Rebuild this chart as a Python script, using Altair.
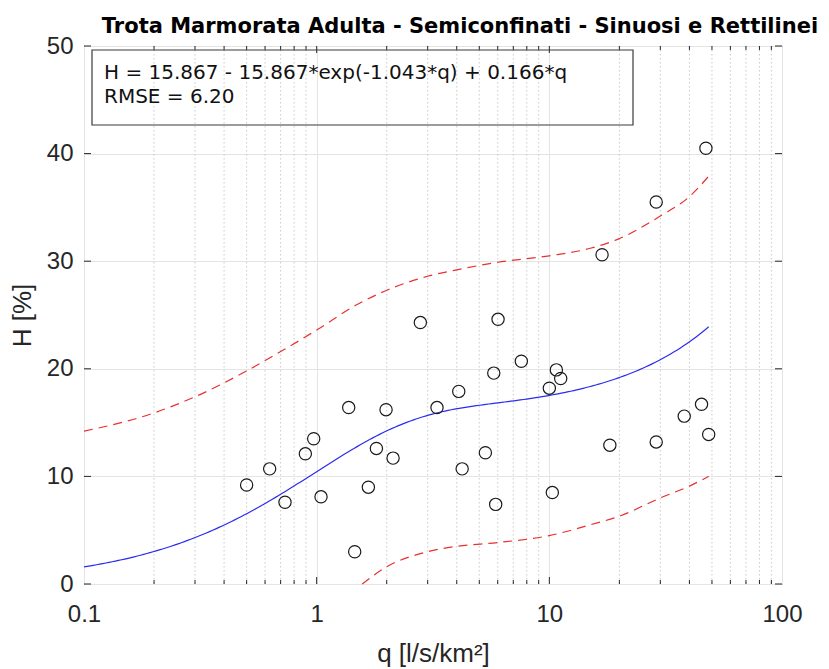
import numpy as np
import pandas as pd
import altair as alt

# Observed points: specific discharge q [l/s/km2] vs habitat H [%]
q_obs = [0.50, 0.628, 0.731, 0.894, 0.971, 1.044, 1.373, 1.457, 1.668, 1.806,
         1.987, 2.13, 2.79, 3.29, 4.08, 4.22, 5.31, 5.77, 5.88, 6.02,
         7.58, 10.0, 10.3, 10.72, 11.19, 16.85, 18.2, 28.8, 28.8, 38.0,
         45.1, 47.1, 48.4]
h_obs = [9.2, 10.7, 7.6, 12.1, 13.5, 8.1, 16.4, 3.0, 9.0, 12.6,
         16.2, 11.7, 24.3, 16.4, 17.9, 10.7, 12.2, 19.6, 7.4, 24.6,
         20.7, 18.2, 8.5, 19.9, 19.1, 30.6, 12.9, 13.2, 35.5, 15.6,
         16.7, 40.5, 13.9]

# Fitted model H = a - a*exp(-b*q) + c*q
fit_a = 15.867
fit_b = 1.043
fit_c = 0.166
rmse = 6.20
q_fit_max = 48.4

# Prediction bounds
upper_q = [0.1, 0.2, 0.3, 0.5, 0.7, 1.0, 1.5, 2.0, 3.0, 4.0, 6.0, 10.0, 15.0, 20.0, 30.0, 40.0, 48.4]
upper_h = [14.2, 15.9, 17.4, 19.8, 21.6, 23.6, 26.0, 27.3, 28.6, 29.2, 29.9, 30.5, 31.2, 32.1, 34.2, 36.0, 37.9]
lower_q = [1.57, 2.0, 3.0, 4.0, 6.0, 10.0, 15.0, 20.0, 30.0, 40.0, 48.4]
lower_h = [0.0, 1.6, 3.0, 3.5, 3.85, 4.5, 5.5, 6.3, 8.0, 9.1, 10.0]

# Axis ticks
x_major = [0.1, 1, 10, 100]
x_minor = [0.2, 0.3, 0.4, 0.5, 0.6, 0.7, 0.8, 0.9,
           2, 3, 4, 5, 6, 7, 8, 9,
           20, 30, 40, 50, 60, 70, 80, 90]
y_major = [0, 10, 20, 30, 40, 50]

title_text = "Trota Marmorata Adulta - Semiconfinati - Sinuosi e Rettilinei"
eq_line1 = f"H = {fit_a:.3f} - {fit_a:.3f}*exp(-{fit_b:.3f}*q) + {fit_c:.3f}*q"
eq_line2 = f"RMSE = {rmse:.2f}"

W, H = 698, 538
FONT = "Liberation Sans"
TEXT_FONT = "DejaVu Sans"
INK = "#262626"

obs = pd.DataFrame({"q": q_obs, "h": h_obs})
q_line = np.logspace(-1, np.log10(q_fit_max), 200)
fit = pd.DataFrame({"q": q_line, "h": fit_a - fit_a * np.exp(-fit_b * q_line) + fit_c * q_line})
upper = pd.DataFrame({"q": upper_q, "h": upper_h})
lower = pd.DataFrame({"q": lower_q, "h": lower_h})
minor = pd.DataFrame({"q": x_minor})
major_inner = pd.DataFrame({"q": [v for v in x_major if 0.1 < v < 100]})
yt = pd.DataFrame({"h": y_major})
one = pd.DataFrame({"k": [0]})

x_enc = alt.X(
    "q:Q",
    scale=alt.Scale(type="log", domain=[0.1, 100]),
    axis=alt.Axis(values=x_major, format="~g", title="q [l/s/km²]",
                  labelPadding=18, titlePadding=14, labelFlush=False),
)
y_enc = alt.Y(
    "h:Q",
    scale=alt.Scale(domain=[0, 50]),
    axis=alt.Axis(values=y_major, title="H [%]", labelPadding=11, titlePadding=11,
                  labelFlush=False),
)

minor_grid = alt.Chart(minor).mark_rule(
    color="#bdbdbd", strokeDash=[1.5, 2.5], strokeWidth=0.8
).encode(x=x_enc, y=alt.value(0), y2=alt.value(H))

minor_ticks_bottom = alt.Chart(minor).mark_rule(color=INK, strokeWidth=1).encode(
    x=x_enc, y=alt.value(H), y2=alt.value(H - 4))
minor_ticks_top = alt.Chart(minor).mark_rule(color=INK, strokeWidth=1).encode(
    x=x_enc, y=alt.value(0), y2=alt.value(4))
major_ticks_bottom = alt.Chart(major_inner).mark_rule(color=INK, strokeWidth=1).encode(
    x=x_enc, y=alt.value(H), y2=alt.value(H - 7))
major_ticks_top = alt.Chart(major_inner).mark_rule(color=INK, strokeWidth=1).encode(
    x=x_enc, y=alt.value(0), y2=alt.value(7))
y_ticks_left = alt.Chart(yt).mark_rule(color=INK, strokeWidth=1).encode(
    y=y_enc, x=alt.value(0), x2=alt.value(7))
y_ticks_right = alt.Chart(yt).mark_rule(color=INK, strokeWidth=1).encode(
    y=y_enc, x=alt.value(W - 7), x2=alt.value(W))

upper_line = alt.Chart(upper).mark_line(
    color="#e8302f", strokeDash=[9, 6], strokeWidth=1.2, interpolate="monotone"
).encode(x=x_enc, y=y_enc)
lower_line = alt.Chart(lower).mark_line(
    color="#e8302f", strokeDash=[9, 6], strokeWidth=1.2, interpolate="monotone"
).encode(x=x_enc, y=y_enc)
fit_line = alt.Chart(fit).mark_line(color="#2b2bf0", strokeWidth=1.2).encode(x=x_enc, y=y_enc)

points = alt.Chart(obs).mark_point(
    shape="circle", filled=False, color="#1a1a1a", size=150, strokeWidth=1.2, opacity=1
).encode(x=x_enc, y=y_enc)

# Equation annotation box in the upper-left corner of the axes
eq_box = alt.Chart(one).mark_rect(
    fill=None, stroke="#3a3a3a", strokeWidth=1.2
).encode(x=alt.value(8), x2=alt.value(549), y=alt.value(4), y2=alt.value(79))

eq_text1 = alt.Chart(one).mark_text(
    align="left", baseline="alphabetic", font=TEXT_FONT, fontSize=20, color="#111111",
    text=eq_line1,
).encode(x=alt.value(20), y=alt.value(33))
eq_text2 = alt.Chart(one).mark_text(
    align="left", baseline="alphabetic", font=TEXT_FONT, fontSize=20, color="#111111",
    text=eq_line2,
).encode(x=alt.value(20), y=alt.value(57))

# Chart title, centred slightly right of the axes
title_mark = alt.Chart(one).mark_text(
    align="center", baseline="alphabetic", font=TEXT_FONT, fontSize=21,
    fontWeight="bold", color="#000000", text=title_text,
).encode(x=alt.value(376), y=alt.value(-13))

chart = alt.layer(
    minor_grid, upper_line, lower_line, fit_line, points,
    minor_ticks_bottom, minor_ticks_top, major_ticks_bottom, major_ticks_top,
    y_ticks_left, y_ticks_right, eq_box, eq_text1, eq_text2, title_mark,
).properties(
    width=W,
    height=H,
    background="white",
    autosize=alt.AutoSizeParams(type="none"),
    padding={"left": 84, "top": 46, "right": 47, "bottom": 85},
).configure_view(
    stroke="#333333", strokeWidth=1
).configure_axis(
    labelFont=FONT, labelFontSize=24, labelColor=INK,
    titleFont=FONT, titleFontSize=26, titleFontWeight="normal", titleColor=INK,
    gridColor="#e4e4e4", gridWidth=1, domain=False, ticks=False, tickSize=0,
)

chart.save("out.html", embed_options={"renderer": "svg", "actions": False})
